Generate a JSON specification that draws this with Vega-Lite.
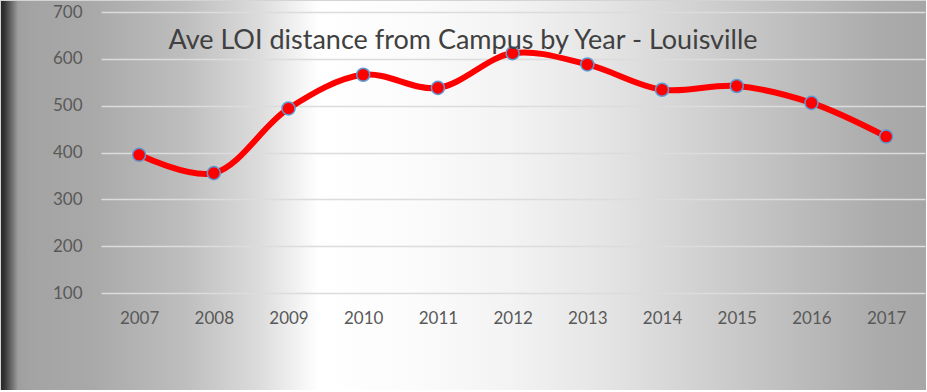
{
  "$schema": "https://vega.github.io/schema/vega-lite/v6.json",
  "width": 926,
  "height": 390,
  "autosize": {"type": "none"},
  "padding": 0,
  "background": "#ffffff",
  "title": {
    "text": "Ave LOI distance from Campus by Year - Louisville",
    "anchor": "middle",
    "frame": "group",
    "orient": "top",
    "offset": 0,
    "baseline": "alphabetic",
    "dy": 76,
    "font": "Lato",
    "fontSize": 27,
    "fontWeight": "normal",
    "color": "#404040"
  },
  "config": {
    "view": {
      "stroke": "#d4d4d4",
      "strokeWidth": 1,
      "fill": {
        "gradient": "linear",
        "x1": 0, "y1": 0, "x2": 1, "y2": 0,
        "stops": [
          {"offset": 0, "color": "#262626"},
          {"offset": 0.004, "color": "#333333"},
          {"offset": 0.019, "color": "#9e9e9e"},
          {"offset": 0.03, "color": "#a3a3a3"},
          {"offset": 0.1, "color": "#a9a9a9"},
          {"offset": 0.2, "color": "#bebebe"},
          {"offset": 0.28, "color": "#dcdcdc"},
          {"offset": 0.344, "color": "#ffffff"},
          {"offset": 0.45, "color": "#fbfbfb"},
          {"offset": 0.55, "color": "#f3f3f3"},
          {"offset": 0.65, "color": "#e5e5e5"},
          {"offset": 0.75, "color": "#d2d2d2"},
          {"offset": 0.85, "color": "#bebebe"},
          {"offset": 0.95, "color": "#ababab"},
          {"offset": 1, "color": "#a6a6a6"}
        ]
      }
    }
  },
  "data": {
    "values": [
      {"year": 2007, "distance": 395},
      {"year": 2008, "distance": 356},
      {"year": 2009, "distance": 494},
      {"year": 2010, "distance": 566},
      {"year": 2011, "distance": 538},
      {"year": 2012, "distance": 612},
      {"year": 2013, "distance": 588},
      {"year": 2014, "distance": 534},
      {"year": 2015, "distance": 542},
      {"year": 2016, "distance": 506},
      {"year": 2017, "distance": 434}
    ]
  },
  "encoding": {
    "x": {
      "field": "year",
      "type": "quantitative",
      "scale": {"domain": [2006.49, 2017.52], "range": [101, 925], "nice": false, "zero": false},
      "axis": {
        "title": null,
        "values": [2007, 2008, 2009, 2010, 2011, 2012, 2013, 2014, 2015, 2016, 2017],
        "format": "d",
        "grid": false,
        "domain": false,
        "ticks": false,
        "labelFont": "Lato",
        "labelFontSize": 17,
        "labelColor": "#595959",
        "labelFlush": false,
        "labelOverlap": false,
        "labelBaseline": "middle",
        "offset": -97,
        "labelPadding": 25
      }
    },
    "y": {
      "field": "distance",
      "type": "quantitative",
      "scale": {"domain": [100, 700], "range": [293, 12], "nice": false, "zero": false},
      "axis": {
        "title": null,
        "values": [100, 200, 300, 400, 500, 600, 700],
        "grid": true,
        "gridColor": "#dcdcdc",
        "gridWidth": 1.5,
        "domain": false,
        "ticks": false,
        "labelFont": "Lato",
        "labelFontSize": 17,
        "labelColor": "#595959",
        "offset": -82,
        "labelPadding": 0
      }
    }
  },
  "layer": [
    {
      "mark": {"type": "line", "interpolate": "catmull-rom", "color": "#ff0000", "strokeWidth": 6}
    },
    {
      "mark": {"type": "point", "filled": true, "fill": "#ff0000", "stroke": "#5b9bd5", "strokeWidth": 1.5, "size": 170, "opacity": 1}
    }
  ]
}
